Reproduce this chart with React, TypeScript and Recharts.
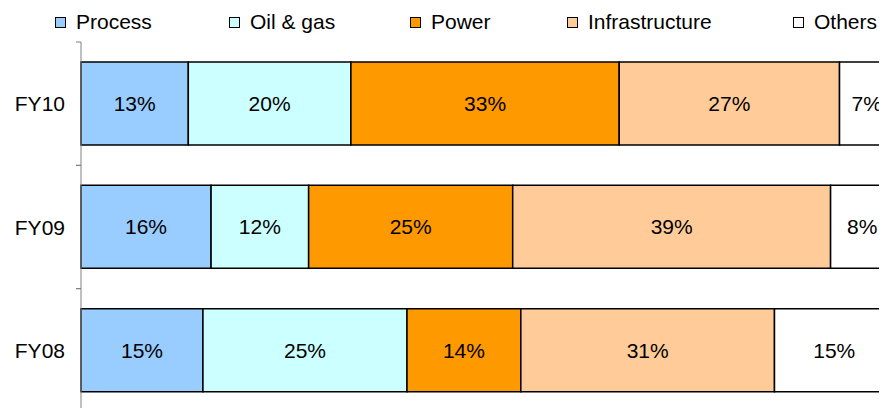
import React from 'react';
import { BarChart, Bar, XAxis, YAxis, LabelList } from 'recharts';

const categories = ['FY10', 'FY09', 'FY08'];
const seriesNames = ['Process', 'Oil & gas', 'Power', 'Infrastructure', 'Others'];
const processValues = [13.2, 16.0, 15.0];
const oilGasValues = [20.0, 12.0, 25.1];
const powerValues = [33.0, 25.1, 14.0];
const infraValues = [27.1, 39.1, 31.2];
const othersValues = [6.7, 7.8, 14.7];

const seriesKeys = ['process', 'oilGas', 'power', 'infra', 'others'];
const seriesColors = ['#99CCFF', '#CCFFFF', '#FF9900', '#FFCC99', '#FFFFFF'];
const seriesValues = [processValues, oilGasValues, powerValues, infraValues, othersValues];

const data = categories.map((c, i) => {
  const row: Record<string, string | number> = { name: c };
  seriesKeys.forEach((k, s) => {
    row[k] = seriesValues[s][i];
  });
  return row;
});

const CHART_W = 900;
const CHART_H = 420;
const MARGIN = { top: 34, right: 14, bottom: 16, left: 0 };
const YAXIS_W = 73;
const TICK_MARGIN = 16;
const PLOT_H = CHART_H - MARGIN.top - MARGIN.bottom;
const FONT = 'Liberation Sans, Arial, sans-serif';

const legendLeft = [47, 221, 402, 559, 785];

const CategoryTick = (props: any) => {
  const { x, y, payload } = props;
  const half = payload && typeof payload.offset === 'number' && payload.offset > 0
    ? payload.offset
    : PLOT_H / (categories.length * 2);
  const axisX = x + TICK_MARGIN;
  return (
    <g>
      <line x1={axisX - 5} x2={axisX} y1={y - half} y2={y - half} stroke="#808080" strokeWidth={1} />
      <line x1={axisX - 5} x2={axisX} y1={y + half} y2={y + half} stroke="#808080" strokeWidth={1} />
      <text x={x} y={y} textAnchor="end" dominantBaseline="central" fontSize={21} fontFamily={FONT} fill="#000">
        {payload.value}
      </text>
    </g>
  );
};

const fmt = (v: any) => `${Math.round(Number(v))}%`;

export default function App() {
  return (
    <div style={{ position: 'relative', width: 879, height: 400, overflow: 'hidden', background: '#fff' }}>
      <BarChart
        width={CHART_W}
        height={CHART_H}
        data={data}
        layout="vertical"
        margin={MARGIN}
        barSize={83}
      >
        <XAxis type="number" domain={[0, 100]} hide />
        <YAxis
          type="category"
          dataKey="name"
          width={YAXIS_W}
          axisLine={{ stroke: '#808080', strokeWidth: 1 }}
          tickLine={false}
          tickSize={0}
          tickMargin={TICK_MARGIN}
          tick={<CategoryTick />}
          interval={0}
        />
        {seriesKeys.map((k, s) => (
          <Bar
            key={k}
            dataKey={k}
            name={seriesNames[s]}
            stackId="a"
            fill={seriesColors[s]}
            stroke="#000"
            strokeWidth={1.5}
            isAnimationActive={false}
          >
            <LabelList
              dataKey={k}
              position="center"
              formatter={fmt}
              style={{ fontSize: 21, fontFamily: FONT, fill: '#000' }}
            />
          </Bar>
        ))}
      </BarChart>
      {seriesNames.map((n, s) => (
        <div
          key={n}
          style={{
            position: 'absolute',
            left: legendLeft[s],
            top: 2,
            height: 24,
            display: 'flex',
            alignItems: 'center',
            fontFamily: FONT,
            fontSize: 21,
            color: '#000',
            whiteSpace: 'nowrap',
          }}
        >
          <span
            style={{
              display: 'inline-block',
              width: 9,
              height: 9,
              background: seriesColors[s],
              border: '1px solid #000',
              marginRight: 10,
            }}
          />
          <span>{n}</span>
        </div>
      ))}
    </div>
  );
}
